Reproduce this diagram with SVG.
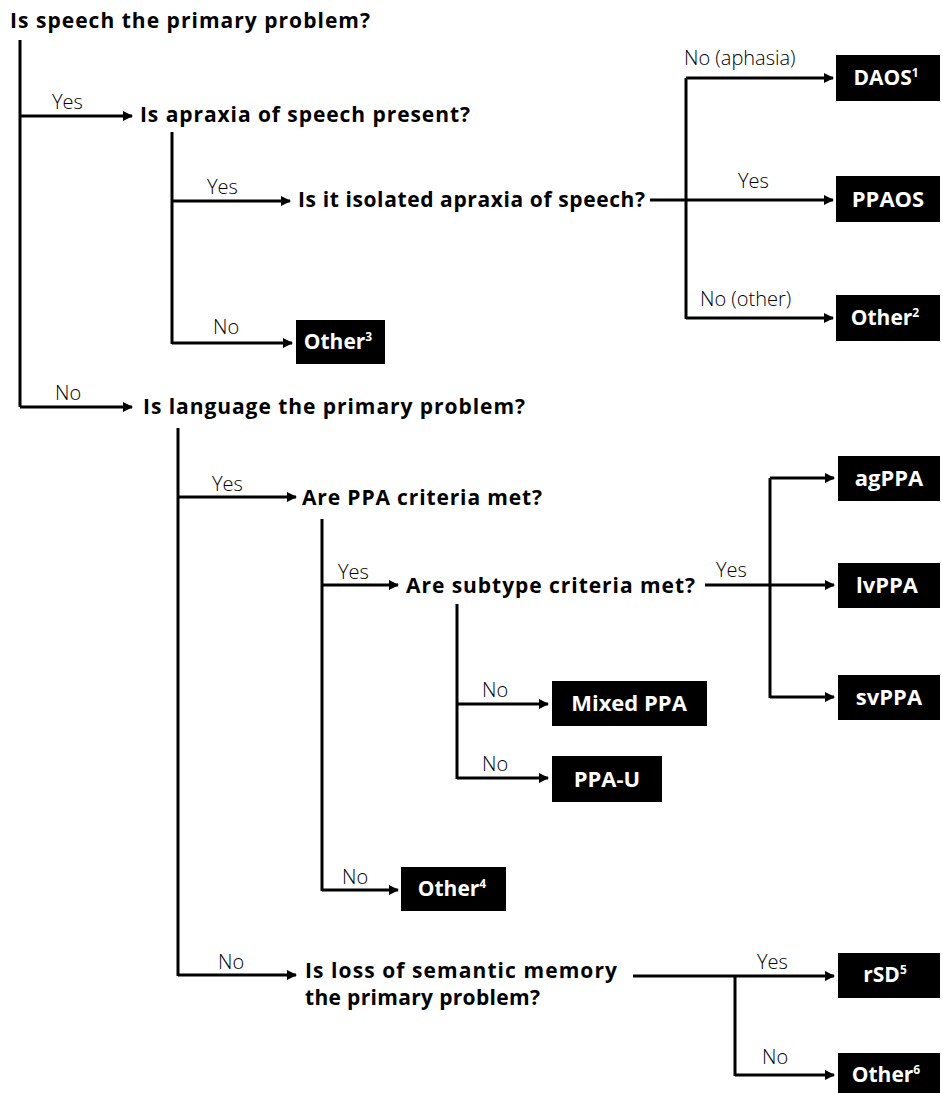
<svg xmlns="http://www.w3.org/2000/svg" width="943" height="1093" viewBox="0 0 943 1093">
<style>
.q{font-family:"Open Sans","Liberation Sans",sans-serif;font-weight:700;font-size:21px;fill:#000}
.l{font-family:"Open Sans","Liberation Sans",sans-serif;font-weight:300;font-size:20px;fill:#000}
.bt{font-family:"Open Sans","Liberation Sans",sans-serif;font-weight:700;font-size:21px;fill:#fff;text-anchor:middle}
.big{font-size:22px}
.sup{font-size:12px}
.box{fill:#000}
.c{fill:none;stroke:#000;stroke-width:3}
</style>
<defs>
<marker id="ah" viewBox="0 0 10 10" refX="9" refY="5" markerWidth="10" markerHeight="10" markerUnits="userSpaceOnUse" orient="auto">
<path d="M0,0 L10,5 L0,10 z" fill="#000"/>
</marker>
</defs>
<rect width="943" height="1093" fill="#fff"/>
<g id="connectors">
<path class="c" d="M20,40 V407"/>
<path class="c" d="M20,116 H132" marker-end="url(#ah)"/>
<path class="c" d="M20,407 H132" marker-end="url(#ah)"/>
<path class="c" d="M172,132 V344"/>
<path class="c" d="M172,201 H290" marker-end="url(#ah)"/>
<path class="c" d="M172,343 H292" marker-end="url(#ah)"/>
<path class="c" d="M650,200 H686"/>
<path class="c" d="M686,78 V319"/>
<path class="c" d="M686,78 H833" marker-end="url(#ah)"/>
<path class="c" d="M686,200 H833" marker-end="url(#ah)"/>
<path class="c" d="M686,318 H833" marker-end="url(#ah)"/>
<path class="c" d="M178,428 V976"/>
<path class="c" d="M178,497 H296" marker-end="url(#ah)"/>
<path class="c" d="M178,975 H296" marker-end="url(#ah)"/>
<path class="c" d="M322,519 V891"/>
<path class="c" d="M322,585 H398" marker-end="url(#ah)"/>
<path class="c" d="M322,890 H398" marker-end="url(#ah)"/>
<path class="c" d="M705,585 H770"/>
<path class="c" d="M770,478 V698"/>
<path class="c" d="M770,478 H834" marker-end="url(#ah)"/>
<path class="c" d="M770,585 H834" marker-end="url(#ah)"/>
<path class="c" d="M770,697 H834" marker-end="url(#ah)"/>
<path class="c" d="M457,604 V779"/>
<path class="c" d="M457,704 H548" marker-end="url(#ah)"/>
<path class="c" d="M457,778 H548" marker-end="url(#ah)"/>
<path class="c" d="M633,976 H834" marker-end="url(#ah)"/>
<path class="c" d="M735,976 V1076"/>
<path class="c" d="M735,1075 H834" marker-end="url(#ah)"/>
<text class="l" x="52" y="109">Yes</text>
<text class="l" x="55" y="400">No</text>
<text class="l" x="207" y="194">Yes</text>
<text class="l" x="213" y="334">No</text>
<text class="l" x="684" y="65">No (aphasia)</text>
<text class="l" x="738" y="188">Yes</text>
<text class="l" x="700" y="306">No (other)</text>
<text class="l" x="212" y="491">Yes</text>
<text class="l" x="218" y="969">No</text>
<text class="l" x="338" y="579">Yes</text>
<text class="l" x="342" y="884">No</text>
<text class="l" x="716" y="577">Yes</text>
<text class="l" x="482" y="697">No</text>
<text class="l" x="482" y="771">No</text>
<text class="l" x="757" y="969">Yes</text>
<text class="l" x="762" y="1064">No</text>
</g>
<g id="q-speech"><text class="q" x="10" y="28" textLength="360">Is speech the primary problem?</text></g>
<g id="q-apraxia"><text class="q" x="140" y="122" textLength="330">Is apraxia of speech present?</text></g>
<g id="q-isolated"><text class="q" x="298" y="207" textLength="347">Is it isolated apraxia of speech?</text></g>
<g id="q-language"><text class="q" x="143" y="414" textLength="382">Is language the primary problem?</text></g>
<g id="q-ppa"><text class="q" x="302" y="505" textLength="240">Are PPA criteria met?</text></g>
<g id="q-subtype"><text class="q" x="406" y="593" textLength="289">Are subtype criteria met?</text></g>
<g id="q-semantic">
<text class="q" x="305" y="978" textLength="312">Is loss of semantic memory</text>
<text class="q" x="305" y="1005" textLength="235">the primary problem?</text>
</g>
<g id="daos"><rect class="box" x="836" y="55" width="104" height="46"/><text class="bt" x="886" y="85">DAOS<tspan class="sup" dy="-8">1</tspan></text></g>
<g id="ppaos"><rect class="box" x="836" y="176" width="104" height="46"/><text class="bt big" x="888" y="207">PPAOS</text></g>
<g id="other2"><rect class="box" x="836" y="295" width="104" height="46"/><text class="bt" x="885" y="325">Other<tspan class="sup" dy="-8">2</tspan></text></g>
<g id="other3"><rect class="box" x="296" y="320" width="89" height="44"/><text class="bt" x="338" y="349">Other<tspan class="sup" dy="-8">3</tspan></text></g>
<g id="agppa"><rect class="box" x="838" y="456" width="102" height="45"/><text class="bt big" x="889" y="486">agPPA</text></g>
<g id="lvppa"><rect class="box" x="838" y="563" width="102" height="45"/><text class="bt big" x="887" y="593">lvPPA</text></g>
<g id="svppa"><rect class="box" x="838" y="675" width="102" height="45"/><text class="bt big" x="889" y="705">svPPA</text></g>
<g id="mixedppa"><rect class="box" x="552" y="681" width="155" height="45"/><text class="bt big" x="629" y="711">Mixed PPA</text></g>
<g id="ppau"><rect class="box" x="552" y="756" width="110" height="46"/><text class="bt big" x="607" y="787">PPA-U</text></g>
<g id="other4"><rect class="box" x="401" y="867" width="105" height="44"/><text class="bt" x="452" y="896">Other<tspan class="sup" dy="-8">4</tspan></text></g>
<g id="rsd"><rect class="box" x="838" y="953" width="102" height="45"/><text class="bt" x="885" y="982">rSD<tspan class="sup" dy="-8">5</tspan></text></g>
<g id="other6"><rect class="box" x="838" y="1053" width="102" height="42"/><text class="bt" x="886" y="1082">Other<tspan class="sup" dy="-8">6</tspan></text></g>
</svg>
